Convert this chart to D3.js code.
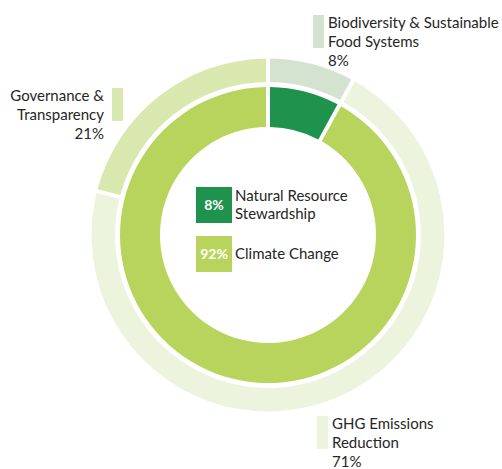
<!DOCTYPE html>
<html>
<head>
<meta charset="utf-8">
<script src="https://cdn.jsdelivr.net/npm/d3@7"></script>
<style>
  body { margin: 0; background: #fff; }
  svg { display: block; font-family: Lato, "Open Sans", sans-serif; }
</style>
</head>
<body>
<svg id="donut" width="502" height="469"></svg>
<script>
// outer ring: focus areas
const outerNames = ["Biodiversity & Sustainable\nFood Systems", "GHG Emissions\nReduction", "Governance &\nTransparency"];
const outerValues = [8, 71, 21];
const outerColors = ["#d4e2d0", "#ecf4de", "#d9e8ae"];

// inner ring: themes
const innerNames = ["Natural Resource\nStewardship", "Climate Change"];
const innerValues = [8, 92];
const innerColors = ["#1f934d", "#b9d45c"];

const svg = d3.select("svg#donut");
const cx = 268, cy = 235;

const pie = d3.pie().sort(null).value(d => d.value);

const outerArc = d3.arc()
  .innerRadius(153)
  .outerRadius(176.5)
  .padAngle(0.025)
  .padRadius(160);

const innerArc = d3.arc()
  .innerRadius(108)
  .outerRadius(148)
  .padAngle(0.025)
  .padRadius(160);

const outerData = outerValues.map((v, i) => ({name: outerNames[i], value: v, color: outerColors[i]}));
const innerData = innerValues.map((v, i) => ({name: innerNames[i], value: v, color: innerColors[i]}));

const g = svg.append("g").attr("transform", `translate(${cx},${cy})`);

g.append("g").attr("id", "outer")
  .selectAll("path")
  .data(pie(outerData))
  .join("path")
    .attr("d", outerArc)
    .attr("fill", d => d.data.color);

g.append("g").attr("id", "inner")
  .selectAll("path")
  .data(pie(innerData))
  .join("path")
    .attr("d", innerArc)
    .attr("fill", d => d.data.color);

// outer labels, with a small swatch bar next to each
const textColor = "#262626";
const fontSize = 15;
const lineH = 19;
const outerLabels = [
  {x: 313, y: 15, anchor: "start"},
  {x: 317, y: 416, anchor: "start"},
  {x: 112, y: 88, anchor: "end"}
];

outerData.forEach((d, i) => {
  const pos = outerLabels[i];
  const lab = svg.append("g").attr("class", "outer-label");
  lab.append("rect")
    .attr("x", pos.x).attr("y", pos.y)
    .attr("width", 11).attr("height", 33)
    .attr("fill", d.color);
  const tx = pos.anchor === "start" ? pos.x + 15 : pos.x - 8;
  const lines = d.name.split("\n").concat([`${d.value}%`]);
  lab.append("text")
    .attr("text-anchor", pos.anchor)
    .attr("fill", textColor)
    .attr("font-size", fontSize)
    .selectAll("tspan")
    .data(lines)
    .join("tspan")
      .attr("x", tx)
      .attr("y", (l, j) => pos.y + 8 + j * lineH)
      .attr("dy", "0.35em")
      .text(l => l);
});

// centre legend
const legendY = [187, 236];
innerData.forEach((d, i) => {
  const lg = svg.append("g").attr("class", "center-legend");
  lg.append("rect")
    .attr("x", 196).attr("y", legendY[i])
    .attr("width", 36).attr("height", 36)
    .attr("fill", d.color);
  lg.append("text")
    .attr("x", 214).attr("y", legendY[i] + 18)
    .attr("dy", "0.35em")
    .attr("text-anchor", "middle")
    .attr("fill", "#fff")
    .attr("font-size", 14)
    .attr("font-weight", "bold")
    .text(`${d.value}%`);
  const lines = d.name.split("\n");
  lg.append("text")
    .attr("fill", textColor)
    .attr("font-size", fontSize)
    .selectAll("tspan")
    .data(lines)
    .join("tspan")
      .attr("x", 235)
      .attr("y", (l, j) => legendY[i] + 18 - (lines.length - 1) * 9 + j * 18)
      .attr("dy", "0.35em")
      .text(l => l);
});
</script>
</body>
</html>
